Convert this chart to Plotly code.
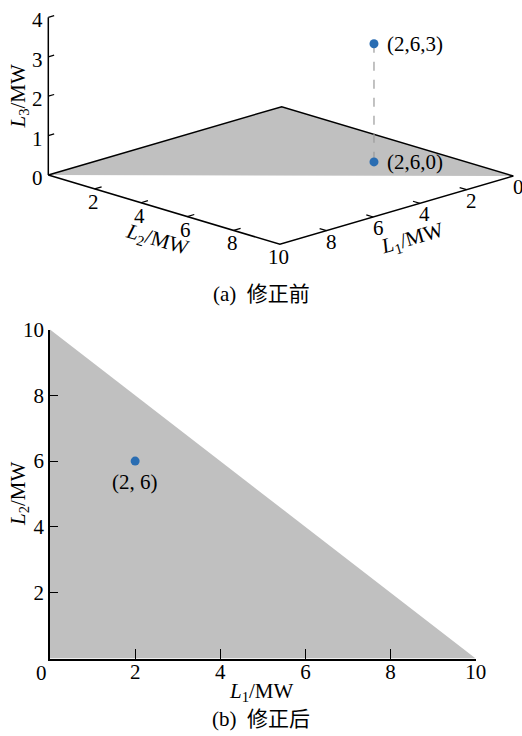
import plotly.graph_objects as go

# ---------------- data ----------------
region_L1 = [0, 10, 0]          # feasible region L1 + L2 <= 10 (vertices)
region_L2 = [0, 0, 10]
L1_tick_vals = [0, 2, 4, 6, 8]  # 3D panel tick labels
L2_tick_vals = [2, 4, 6, 8, 10]
L3_tick_vals = [0, 1, 2, 3, 4]
L_max = 10
L3_max = 4
pre_point = [2, 6, 3]           # before correction
proj_point = [2, 6, 0]          # projection onto L3 = 0
post_point = [2, 6]             # after correction
bottom_ticks = [2, 4, 6, 8, 10]

# ---------------- style ----------------
FONT = "Liberation Serif, Noto Sans CJK SC, serif"
FS = 21
GRAY = "#c0c0c0"
BLUE = "#2a6db2"
LW = 1.5

# oblique projection of the 3D panel (pixel space)
O = (281.7, 106.7)
E1 = (-23.34, 6.83)
E2 = (23.16, 6.93)
E3 = (0.0, -39.4)


def proj(a, b, c):
    return (O[0] + a * E1[0] + b * E2[0] + c * E3[0],
            O[1] + a * E1[1] + b * E2[1] + c * E3[1])


def seg_trace(points3d, color="black", width=LW, dash=None):
    xs, ys = [], []
    for p in points3d:
        if p is None:
            xs.append(None); ys.append(None)
        else:
            x, y = proj(*p)
            xs.append(x); ys.append(y)
    return go.Scatter(x=xs, y=ys, mode="lines", xaxis="x", yaxis="y",
                      line=dict(color=color, width=width, dash=dash),
                      hoverinfo="skip", showlegend=False)


fig = go.Figure()

# --- (a) 3D panel ---
tri = [proj(a, b, 0) for a, b in zip(region_L1, region_L2)]
fig.add_trace(go.Scatter(x=[p[0] for p in tri] + [tri[0][0]],
                         y=[p[1] for p in tri] + [tri[0][1]],
                         xaxis="x", yaxis="y", mode="lines", fill="toself",
                         fillcolor=GRAY, line=dict(width=0),
                         hoverinfo="skip", showlegend=False))
# upper edges of region
fig.add_trace(seg_trace([(region_L1[1], region_L2[1], 0),
                         (region_L1[0], region_L2[0], 0),
                         (region_L1[2], region_L2[2], 0)]))
# axes
fig.add_trace(seg_trace([(L_max, 0, 0), (L_max, 0, L3_max), None,
                         (L_max, 0, 0), (L_max, L_max, 0), (0, L_max, 0)]))
# ticks
tk = []
for v in L2_tick_vals[:-1]:
    tk += [(L_max, v, 0), (L_max - 0.3, v, 0), None]
for v in L1_tick_vals[1:]:
    tk += [(v, L_max, 0), (v, L_max - 0.3, 0), None]
for v in L3_tick_vals[1:]:
    tk += [(L_max, 0, v), (L_max - 0.25, 0, v), None]
fig.add_trace(seg_trace(tk, width=1.2))
# dashed drop line
fig.add_trace(seg_trace([tuple(pre_point), tuple(proj_point)],
                        color="#9a9a9a", width=1.2, dash="dash"))
pts = [proj(*pre_point), proj(*proj_point)]
fig.add_trace(go.Scatter(x=[p[0] for p in pts], y=[p[1] for p in pts],
                         xaxis="x", yaxis="y", mode="markers",
                         marker=dict(color=BLUE, size=9),
                         hoverinfo="skip", showlegend=False))

ann = []


def A(x, y, text, **kw):
    d = dict(x=x, y=y, xref="x", yref="y", text=text, showarrow=False,
             font=dict(family=FONT, size=FS, color="black"))
    d.update(kw)
    ann.append(d)


for p in [pre_point, proj_point]:
    x, y = proj(*p)
    A(x + 11, y, "(%d,%d,%d)" % tuple(p), xanchor="left", yanchor="middle")

for v in L3_tick_vals:
    x, y = proj(L_max, 0, v)
    A(x - 3, y + 3, str(v), xanchor="right", yanchor="middle")
for v in L2_tick_vals:
    x, y = proj(L_max, v, 0)
    A(x - 1.5, y + 13, str(v), xanchor="center", yanchor="middle")
for v in L1_tick_vals:
    x, y = proj(v, L_max, 0)
    A(x + 5, y + 11, str(v), xanchor="center", yanchor="middle")

A(18.5, 96, "<i>L</i><sub>3</sub>/MW", textangle=-90)
A(157, 240, "<i>L</i><sub>2</sub>/MW", textangle=16.5)
A(412, 239, "<i>L</i><sub>1</sub>/MW", textangle=-16.5)
A(261, 294, "(a)  修正前")

# --- (b) 2D panel ---
fig.add_trace(go.Scatter(x=region_L1 + [region_L1[0]], y=region_L2 + [region_L2[0]],
                         xaxis="x2", yaxis="y2", mode="lines", fill="toself",
                         fillcolor=GRAY, line=dict(width=0),
                         hoverinfo="skip", showlegend=False))
fig.add_trace(go.Scatter(x=[post_point[0]], y=[post_point[1]], xaxis="x2", yaxis="y2",
                         mode="markers", marker=dict(color=BLUE, size=9),
                         hoverinfo="skip", showlegend=False))
ann.append(dict(x=post_point[0], y=post_point[1], xref="x2", yref="y2",
                text="(%d, %d)" % tuple(post_point), showarrow=False,
                yshift=-21, font=dict(family=FONT, size=FS, color="black")))
ann.append(dict(x=0, y=0, xref="x2", yref="y2", text="0", showarrow=False,
                xshift=-9, yshift=-14, font=dict(family=FONT, size=FS, color="black")))
A(261, 692, "<i>L</i><sub>1</sub>/MW")
A(19, 494, "<i>L</i><sub>2</sub>/MW", textangle=-90)
A(261, 719, "(b)  修正后")

W, H = 522, 736
ax_common = dict(showgrid=False, zeroline=False, showline=True, linecolor="black",
                 linewidth=LW, ticks="inside", tickcolor="black", tickwidth=1.2,
                 tickfont=dict(family=FONT, size=FS, color="black"), range=[0, 10],
                 tickvals=bottom_ticks, fixedrange=True, automargin=False)

fig.update_layout(
    template="none",
    width=W, height=H, autosize=False,
    margin=dict(l=0, r=0, t=0, b=0, pad=0, autoexpand=False),
    paper_bgcolor="white", plot_bgcolor="rgba(0,0,0,0)",
    showlegend=False,
    font=dict(family=FONT, size=FS, color="black"),
    xaxis=dict(domain=[0, 1], range=[0, W], visible=False, fixedrange=True, automargin=False),
    yaxis=dict(domain=[0, 1], range=[H, 0], visible=False, fixedrange=True, automargin=False),
    xaxis2=dict(domain=[50 / W, 475.7 / W], anchor="y2", ticklen=10,
                ticklabelstandoff=-6, **ax_common),
    yaxis2=dict(domain=[1 - 658.5 / H, 1 - 329.5 / H], anchor="x2", ticklen=8, **ax_common),
    annotations=ann,
)

fig.write_html("out.html")
